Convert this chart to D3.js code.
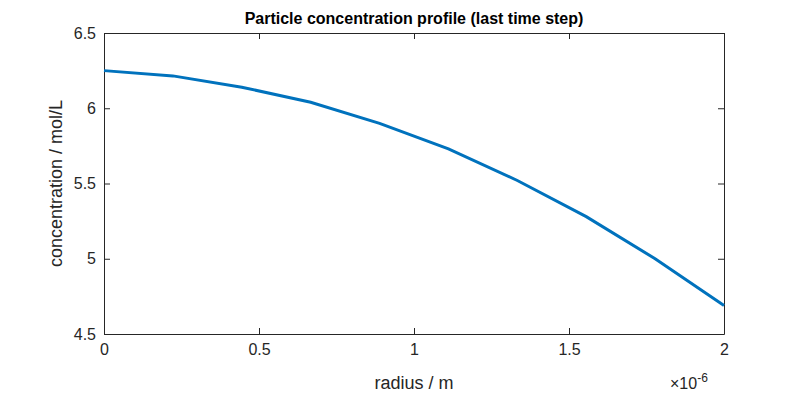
<!DOCTYPE html>
<html><head><meta charset="utf-8">
<script src="https://cdn.jsdelivr.net/npm/d3@7"></script>
<style>body{margin:0;background:#fff}</style>
</head><body>
<svg width="800" height="400"></svg>
<script>
// radius in units of 1e-6 m
const radius = [0, 0.2222, 0.4444, 0.6667, 0.8889, 1.1111, 1.3333, 1.5556, 1.7778, 2.0];
const conc = [6.25, 6.215, 6.14, 6.04, 5.90, 5.73, 5.52, 5.28, 5.00, 4.69];
const xTicks = [0, 0.5, 1, 1.5, 2];
const yTicks = [4.5, 5, 5.5, 6, 6.5];

const svg = d3.select('svg');
const mLeft = 104, mRight = 724, mTop = 33, mBottom = 334;
const font = 'Liberation Sans, Arial, sans-serif';
const ink = '#262626';

const x = d3.scaleLinear().domain([0, 2]).range([mLeft, mRight]);
const y = d3.scaleLinear().domain([4.5, 6.5]).range([mBottom, mTop]);

svg.append('rect').attr('x', mLeft).attr('y', mTop)
    .attr('width', mRight - mLeft).attr('height', mBottom - mTop)
    .attr('fill', 'white');

svg.append('g').attr('transform', `translate(0,${mBottom})`)
    .call(d3.axisBottom(x).tickValues(xTicks).tickSizeInner(-6).tickSizeOuter(0).tickPadding(10).tickFormat(d3.format('')));
svg.append('g').attr('transform', `translate(${mLeft},0)`)
    .call(d3.axisLeft(y).tickValues(yTicks).tickSizeInner(-6).tickSizeOuter(0).tickPadding(8).tickFormat(d3.format('')));
svg.append('g').attr('transform', `translate(0,${mTop})`)
    .call(d3.axisTop(x).tickValues(xTicks).tickSizeInner(-6).tickSizeOuter(0).tickFormat(''));
svg.append('g').attr('transform', `translate(${mRight},0)`)
    .call(d3.axisRight(y).tickValues(yTicks).tickSizeInner(-6).tickSizeOuter(0).tickFormat(''));

svg.selectAll('.domain, .tick line').attr('stroke', ink);
svg.selectAll('.tick text').attr('fill', ink).style('font-family', font).style('font-size', '16px');

svg.append('path')
    .datum(radius.map((r, i) => [r, conc[i]]))
    .attr('fill', 'none').attr('stroke', '#0072BD').attr('stroke-width', 3)
    .attr('d', d3.line().x(d => x(d[0])).y(d => y(d[1])));

svg.append('text').attr('x', (mLeft + mRight) / 2).attr('y', 24)
    .attr('text-anchor', 'middle').attr('font-weight', 'bold')
    .style('font-family', font).style('font-size', '16px').attr('fill', 'black')
    .text('Particle concentration profile (last time step)');

svg.append('text').attr('x', (mLeft + mRight) / 2).attr('y', 389)
    .attr('text-anchor', 'middle').style('font-family', font).style('font-size', '18px').attr('fill', ink)
    .text('radius / m');

svg.append('text').attr('transform', `translate(62,${(mTop + mBottom) / 2}) rotate(-90)`)
    .attr('text-anchor', 'middle').style('font-family', font).style('font-size', '18px').attr('fill', ink)
    .text('concentration / mol/L');

const ex = svg.append('text').attr('x', 670).attr('y', 389)
    .style('font-family', font).style('font-size', '16px').attr('fill', ink);
ex.append('tspan').text('\u00d710');
ex.append('tspan').attr('dy', -7).style('font-size', '12px').text('-6');
</script>
</body></html>
